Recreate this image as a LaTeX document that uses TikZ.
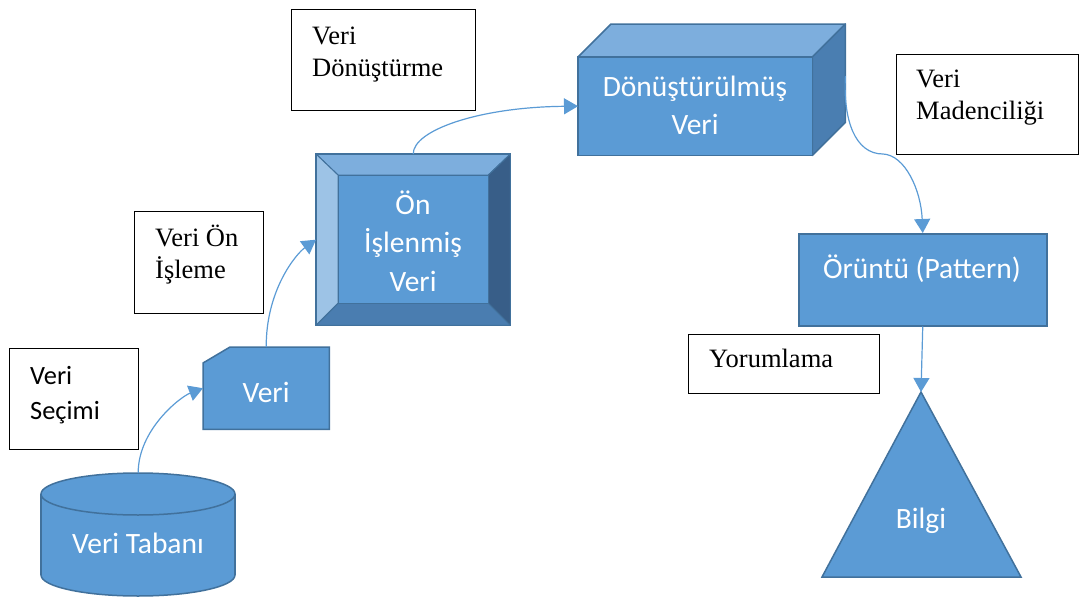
\documentclass[tikz,border=0pt]{standalone}
\usepackage{fontspec}
\setmainfont{Liberation Serif}
\newfontfamily\calibri{Carlito}
\usetikzlibrary{arrows.meta,calc}

\definecolor{fillblue}{HTML}{5B9BD5}
\definecolor{edgeblue}{HTML}{41719C}
\definecolor{lightface}{HTML}{7DAEDD}
\definecolor{paleface}{HTML}{9DC3E6}
\definecolor{darkface}{HTML}{385E88}
\definecolor{midface}{HTML}{4A7DB0}
\definecolor{sideface}{HTML}{4A7EB1}
\definecolor{linkblue}{HTML}{5B9BD5}

\tikzset{
  lblbox/.style={draw=black, line width=1.3pt, fill=white, inner sep=0pt, anchor=north west},
  lbltext/.style={anchor=base west, inner sep=0pt, font=\fontsize{26.5}{32.5}\selectfont},
  frame/.style={inner sep=0pt, anchor=north west},
  blueshape/.style={fill=fillblue, draw=edgeblue, line width=1.5pt, line join=miter},
  face/.style={draw=edgeblue, line width=1pt, line join=round},
  bluetext/.style={text=white, inner sep=0pt, anchor=base, font=\calibri\fontsize{29.5}{38}\selectfont},
  link/.style={draw=linkblue, line width=1.2pt, -{Triangle[length=14pt,width=16pt]}},
}

\begin{document}
\begin{tikzpicture}[x=1pt,y=-1pt]
\useasboundingbox (0,0) rectangle (1085,597);

% ---- Veri Secimi label and database cylinder
\node[lblbox, minimum width=129pt, minimum height=101pt] (secimi) at (9,348) {};
\node[lbltext, font=\calibri\fontsize{26.4}{35}\selectfont] (secimi-t) at ($(secimi.north west)+(21,36)$)
  {\begin{tabular}[t]{@{}l@{}}Veri\\Seçimi\end{tabular}};

\node[frame, minimum width=194pt, minimum height=123pt] (db) at (41,473) {};
\fill[fillblue] (41,494) rectangle (235,575);
\fill[fillblue] (138,575) ellipse [x radius=97, y radius=21];
\draw[edgeblue, line width=1.5pt] (41,494) -- (41,575) (235,494) -- (235,575);
\begin{scope}
  \clip (30,575) rectangle (250,600);
  \draw[edgeblue, line width=1.5pt] (138,575) ellipse [x radius=97, y radius=21];
\end{scope}
\draw[blueshape] (138,494) ellipse [x radius=97, y radius=21];
\node[bluetext] (db-t) at (138,553) {Veri Tabanı};

% ---- Veri card
\node[frame, minimum width=126pt, minimum height=82pt] (veri) at (203,347) {};
\draw[blueshape] ($(veri.north west)+(27,0)$) -- (veri.north east) -- (veri.south east)
  -- (veri.south west) -- ($(veri.north west)+(0,16)$) -- cycle;
\node[bluetext] (veri-t) at (266,402) {Veri};

% ---- Veri On Isleme label
\node[lblbox, minimum width=129pt, minimum height=102pt] (islem) at (134,211) {};
\node[lbltext] (islem-t) at ($(islem.north west)+(21,35)$)
  {\begin{tabular}[t]{@{}l@{}}Veri Ön\\İşleme\end{tabular}};

% ---- bevelled box: On Islenmis Veri
\node[frame, minimum width=194pt, minimum height=171pt] (pre) at (316,154) {};
\coordinate (pre-inw) at ($(pre.north west)+(22,21)$);
\coordinate (pre-ine) at ($(pre.north east)+(-22,21)$);
\coordinate (pre-ise) at ($(pre.south east)+(-22,-22)$);
\coordinate (pre-isw) at ($(pre.south west)+(22,-22)$);
\filldraw[face, fill=lightface] (pre.north west) -- (pre.north east) -- (pre-ine) -- (pre-inw) -- cycle;
\filldraw[face, fill=paleface] (pre.north west) -- (pre-inw) -- (pre-isw) -- (pre.south west) -- cycle;
\filldraw[face, fill=darkface] (pre.north east) -- (pre.south east) -- (pre-ise) -- (pre-ine) -- cycle;
\filldraw[face, fill=midface] (pre.south west) -- (pre-isw) -- (pre-ise) -- (pre.south east) -- cycle;
\filldraw[face, fill=fillblue] (pre-inw) rectangle (pre-ise);
\draw[edgeblue, line width=1.5pt] (pre.north west) rectangle (pre.south east);
\node[bluetext, font=\calibri\fontsize{29.5}{38.5}\selectfont] (pre-t) at (413,214)
  {\begin{tabular}[t]{@{}c@{}}Ön\\İşlenmiş\\Veri\end{tabular}};

% ---- Veri Donusturme label
\node[lblbox, minimum width=184pt, minimum height=101pt] (donus) at (291,9) {};
\node[lbltext] (donus-t) at ($(donus.north west)+(21,35)$)
  {\begin{tabular}[t]{@{}l@{}}Veri\\Dönüştürme\end{tabular}};

% ---- cube: Donusturulmus Veri
\node[frame, minimum width=234pt, minimum height=98pt] (cube) at (578,57) {};
\filldraw[face, fill=lightface, line width=1.5pt] (cube.north west) -- ($(cube.north west)+(33,-33)$)
  -- ($(cube.north east)+(33,-33)$) -- (cube.north east) -- cycle;
\filldraw[face, fill=sideface, line width=1.5pt] (cube.north east) -- ($(cube.north east)+(33,-33)$)
  -- ($(cube.south east)+(33,-33)$) -- (cube.south east) -- cycle;
\draw[blueshape] (cube.north west) rectangle (cube.south east);
\node[bluetext] (cube-t) at (695,96)
  {\begin{tabular}[t]{@{}c@{}}Dönüştürülmüş\\Veri\end{tabular}};

% ---- Veri Madenciligi label
\node[lblbox, minimum width=182pt, minimum height=100pt] (maden) at (896,54) {};
\node[lbltext] (maden-t) at ($(maden.north west)+(20,33)$)
  {\begin{tabular}[t]{@{}l@{}}Veri\\Madenciliği\end{tabular}};

% ---- Oruntu box
\node[frame, blueshape, minimum width=248pt, minimum height=92pt] (ornt) at (798,233) {};
\node[bluetext] (ornt-t) at (922,278) {Örüntü (Pattern)};

% ---- Yorumlama label
\node[lblbox, minimum width=191pt, minimum height=59pt] (yorum) at (688,334) {};
\node[lbltext] (yorum-t) at ($(yorum.north west)+(21,33)$) {Yorumlama};

% ---- Bilgi triangle
\coordinate (bilgi-top) at (921,392);
\draw[blueshape] (bilgi-top) -- (1021,577) -- (822,577) -- cycle;
\node[bluetext] (bilgi) at (921,528) {Bilgi};

% ---- connectors
\draw[link] (db.north) .. controls (138,430) and (180,397) .. (veri.west);
\draw[link] (veri.north) .. controls (266,290) and (296,254) .. (pre.west);
\draw[link] (pre.north) .. controls (413,130) and (480,107) .. (cube.west);
\draw[link] ($(cube.north east)+(33,19)$) .. controls (843,120) and (855,154) .. (883,154)
  .. controls (905,155) and (921,190) .. (ornt.north);
\draw[link] (ornt.south) -- (bilgi-top);
\end{tikzpicture}
\end{document}
